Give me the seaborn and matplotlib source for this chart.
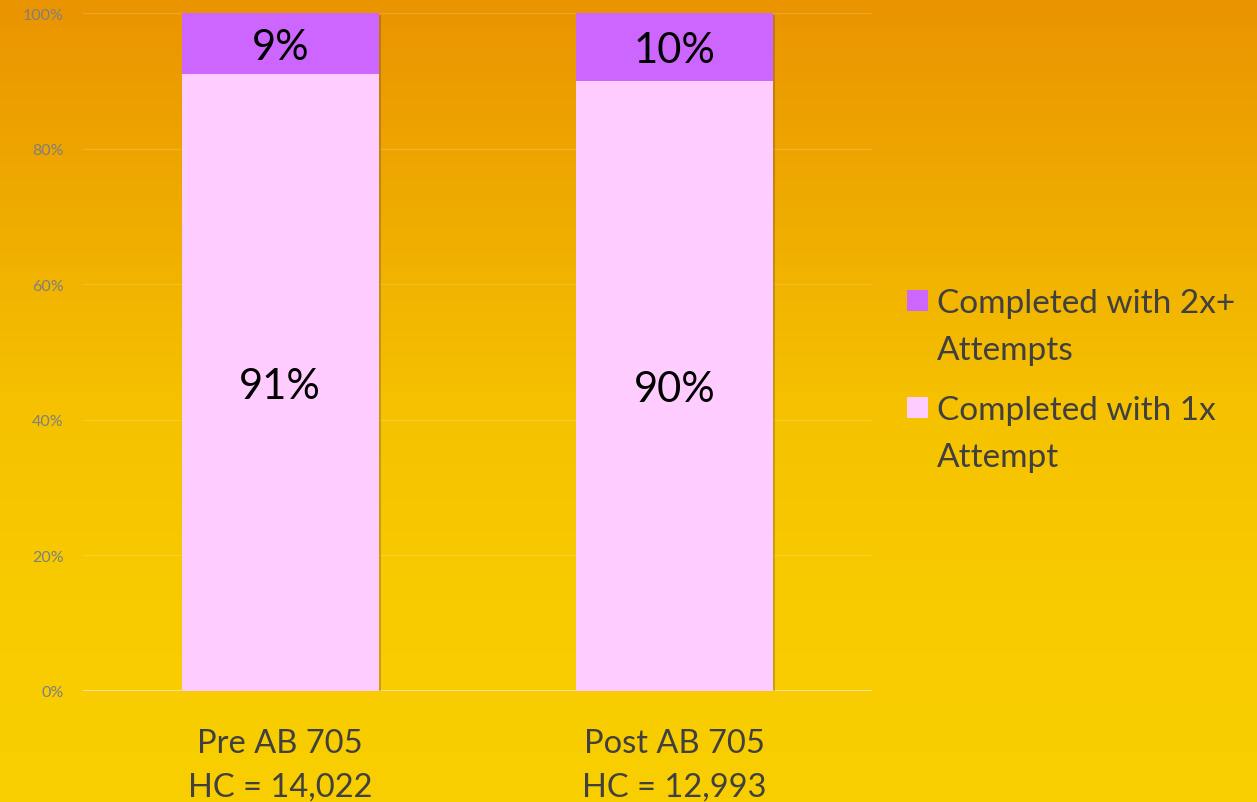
import numpy as np
import pandas as pd
import matplotlib.pyplot as plt
import matplotlib.patheffects as pe
from matplotlib.colors import LinearSegmentedColormap
from matplotlib.patches import Rectangle
import seaborn as sns

sns.set_style('white')
plt.rcParams['font.family'] = ['Lato', 'DejaVu Sans']

# data
groups = ['Pre AB 705\nHC = 14,022', 'Post AB 705\nHC = 12,993']
one_attempt = [91, 90]
two_plus = [9, 10]
series_names = ['Completed with 2x+\nAttempts', 'Completed with 1x\nAttempt']
yticks = [0, 20, 40, 60, 80, 100]

c_two = '#CC66FF'
c_one = '#FFCCFF'
txt = '#404040'

df = pd.DataFrame({'group': groups, 'one': one_attempt, 'two': two_plus})
df['total'] = df['one'] + df['two']

W, H = 1257, 803
fig = plt.figure(figsize=(W / 100, H / 100), dpi=100)

# orange -> yellow background
bg = fig.add_axes([0, 0, 1, 1])
grad = np.linspace(0, 1, 256).reshape(-1, 1)
cmap = LinearSegmentedColormap.from_list('bg', ['#ea9400', '#efaa00', '#f5c100', '#f8cb00', '#f9cf00'])
bg.imshow(grad, aspect='auto', cmap=cmap, extent=[0, 1, 0, 1], origin='upper')
bg.set_axis_off()

ax = fig.add_axes([83 / W, 1 - 692 / H, 789 / W, 678 / H])
ax.patch.set_alpha(0)

sns.barplot(data=df, x='group', y='total', color=c_two, width=0.5,
            saturation=1, ax=ax, zorder=3)
n = len(ax.patches)
sns.barplot(data=df, x='group', y='one', color=c_one, width=0.5,
            saturation=1, ax=ax, zorder=3)

for k, p in enumerate(ax.patches):
    p.set_linewidth(0)
    if k < n:
        p.set_path_effects([pe.SimplePatchShadow(offset=(1.5, -1.5), alpha=0.25), pe.Normal()])

for i, row in df.iterrows():
    ax.text(i, row['one'] + row['two'] / 2, f"{row['two']}%", ha='center', va='center_baseline',
            fontsize=30, color='black', zorder=5)
    ax.text(i, row['one'] / 2, f"{row['one']}%", ha='center', va='center_baseline',
            fontsize=30, color='black', zorder=5)

ax.set_ylim(0, 100)
ax.set_xlim(-0.5, 1.5)
ax.set_yticks(yticks)
ax.set_yticklabels([f'{t}%' for t in yticks], color='#7f7f7f', fontsize=11.5)
ax.tick_params(axis='y', length=0, pad=14)
ax.tick_params(axis='x', length=0, pad=27, labelsize=23.5, labelcolor=txt)
for lab in ax.get_xticklabels():
    lab.set_linespacing(1.55)
ax.set_xlabel('')
ax.set_ylabel('')
ax.yaxis.grid(True, color='white', alpha=0.15, lw=1, zorder=0)
ax.axhline(0, color='#f6e6a6', lw=2, zorder=2)
sns.despine(ax=ax, left=True, bottom=True)

# legend drawn by hand so the swatch sits on the first text line
legend_colors = [c_two, c_one]
for j, (name, col) in enumerate(zip(series_names, legend_colors)):
    top = 291 + j * 107
    fig.patches.append(Rectangle((907 / W, 1 - (top + 21) / H), 21 / W, 21 / H,
                                 transform=fig.transFigure, facecolor=col,
                                 edgecolor='none', zorder=5))
    for m, line in enumerate(name.split('\n')):
        fig.text(937 / W, 1 - (top + 22 + m * 47) / H, line, ha='left', va='baseline',
                 fontsize=24, color=txt)

fig.savefig('out.png', dpi=100)
